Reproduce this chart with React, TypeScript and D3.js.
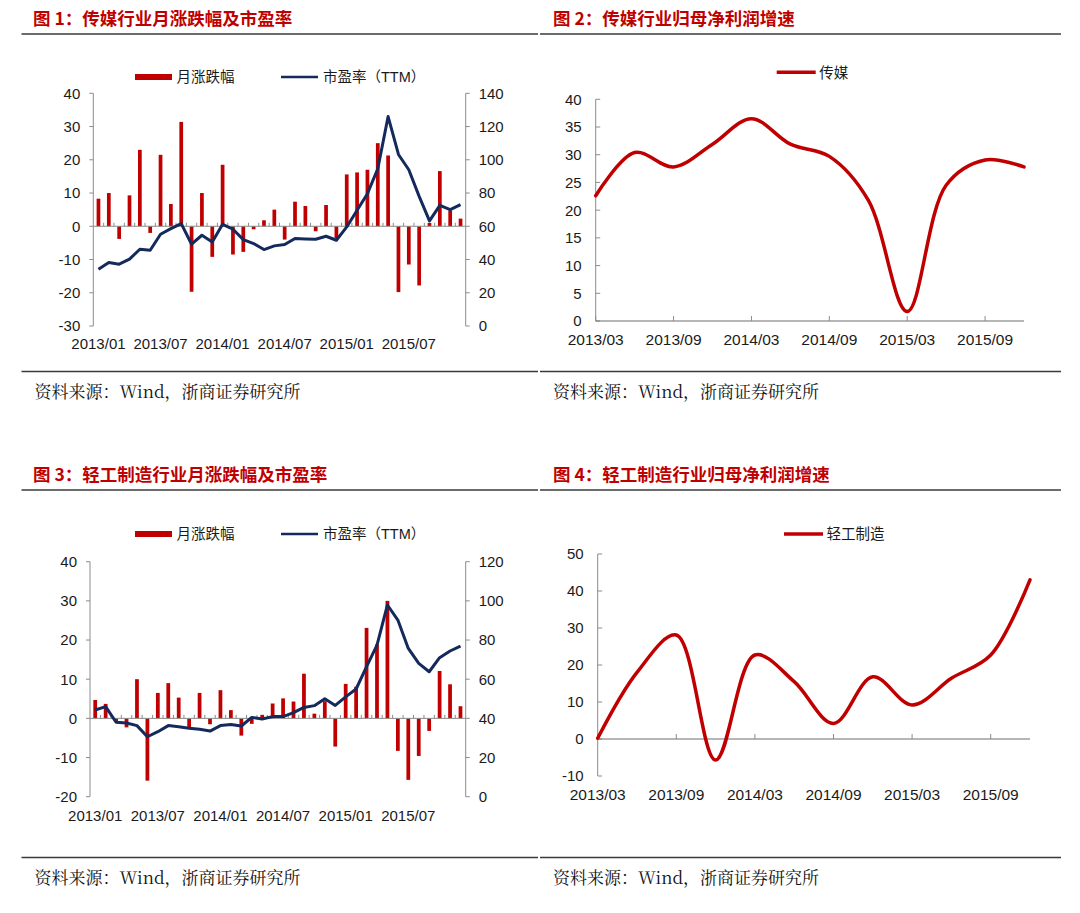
import React from 'react';
import * as d3 from 'd3';

// ---------- DATA ----------
const months = [
  '2013/01','2013/02','2013/03','2013/04','2013/05','2013/06','2013/07','2013/08','2013/09','2013/10','2013/11','2013/12',
  '2014/01','2014/02','2014/03','2014/04','2014/05','2014/06','2014/07','2014/08','2014/09','2014/10','2014/11','2014/12',
  '2015/01','2015/02','2015/03','2015/04','2015/05','2015/06','2015/07','2015/08','2015/09','2015/10','2015/11','2015/12',
];
const monthTickLabels = ['2013/01', '2013/07', '2014/01', '2014/07', '2015/01', '2015/07'];

const mediaMonthlyChange = [
  8.3, 10, -3.8, 9.3, 23, -2, 21.5, 6.7, 31.4, -19.7, 10, -9.2,
  18.5, -8.5, -7.7, -0.9, 1.8, 5, -4, 7.4, 6.1, -1.5, 6.4, -3.6,
  15.6, 16.2, 17, 25, 21.3, -19.8, -11.5, -17.8, 1, 16.6, 4.8, 2.3,
];
const mediaPE = [
  34.2, 38.2, 37.2, 40.2, 46.2, 45.6, 55.2, 58.6, 61.6, 49.2, 54.6, 50.6,
  61.2, 58.2, 52, 49.6, 46, 48.2, 49, 52.6, 52.4, 52.2, 54, 51.6,
  59.6, 69.6, 79.6, 94.6, 126, 103.2, 94, 78, 63.2, 72.6, 70, 73,
];
const lightMonthlyChange = [
  4.7, 3.7, -0.8, -2.3, 10, -15.9, 6.5, 9, 5.3, -2.6, 6.5, -1.5,
  7.2, 2.1, -4.4, -1.4, 0.9, 3.8, 5.1, 4.3, 11.4, 1.2, 4.4, -7.2,
  8.8, 8.1, 23.1, 18.9, 30, -8.3, -15.7, -9.6, -3.2, 12.1, 8.7, 3.1,
];
const lightPE = [
  44.3, 46, 38, 37.6, 36.3, 30.6, 33.2, 36.3, 35.7, 34.9, 34.4, 33.5,
  36.3, 36.9, 36.1, 40.5, 39.7, 40.9, 40.9, 42.9, 45.6, 46.5, 50, 46.6,
  51, 55, 66.4, 77.4, 97.9, 90.2, 75.7, 68.1, 63.8, 71, 74.4, 76.9,
];

const quarters = [
  '2013/03','2013/06','2013/09','2013/12','2014/03','2014/06',
  '2014/09','2014/12','2015/03','2015/06','2015/09','2015/12',
];
const quarterTickLabels = ['2013/03', '2013/09', '2014/03', '2014/09', '2015/03', '2015/09'];
const mediaProfitGrowth = [22.6, 30.4, 27.8, 31.9, 36.5, 31.9, 29.7, 21.8, 1.7, 24.5, 29.05, 27.8];
const lightProfitGrowth = [0.2, 18, 28.1, -5.7, 22.7, 15.5, 4.2, 16.8, 9.2, 16.4, 22.7, 43];

const titles = [
  '图 1：传媒行业月涨跌幅及市盈率',
  '图 2：传媒行业归母净利润增速',
  '图 3：轻工制造行业月涨跌幅及市盈率',
  '图 4：轻工制造行业归母净利润增速',
];
const sourceText = '资料来源：Wind，浙商证券研究所';
const legendBar = '月涨跌幅';
const legendPE = '市盈率（TTM）';

// ---------- STYLE ----------
const RED = '#C00000';
const NAVY = '#14295C';
const AXIS = '#8C8C8C';
const TXT = '#1a1a1a';
const SANS = '"Liberation Sans", Arial, "Noto Sans CJK SC", sans-serif';
const CJK = '"Noto Sans CJK SC", "Liberation Sans", sans-serif';
const SERIF = '"Noto Serif CJK SC", "Liberation Serif", "Noto Sans CJK SC", serif';

type ComboProps = {
  x0: number; x1: number; yTop: number; yBottom: number;
  leftDomain: [number, number]; leftStep: number;
  rightDomain: [number, number]; rightStep: number;
  change: number[]; pe: number[];
  legendY: number; labelY: number;
};

function ComboChart(p: ComboProps) {
  const band = d3.scaleBand<string>().domain(months).range([p.x0, p.x1]).paddingInner(0).paddingOuter(0);
  const bw = band.bandwidth();
  const barW = bw * 0.36;
  const yL = d3.scaleLinear().domain(p.leftDomain).range([p.yBottom, p.yTop]);
  const yR = d3.scaleLinear().domain(p.rightDomain).range([p.yBottom, p.yTop]);
  const leftTicks = d3.range(p.leftDomain[0], p.leftDomain[1] + 0.001, p.leftStep);
  const rightTicks = d3.range(p.rightDomain[0], p.rightDomain[1] + 0.001, p.rightStep);
  const cx = (m: string) => (band(m) as number) + bw / 2;
  const line = d3.line<number>().x((_, i) => cx(months[i])).y(v => yR(v)).curve(d3.curveLinear);
  const y0 = yL(0);
  return (
    <g>
      {/* legend */}
      <rect x={135} y={p.legendY - 3} width={37} height={6} fill={RED} />
      <text x={176.5} y={p.legendY} dy="0.36em" fontFamily={CJK} fontSize={14.5} fill={TXT}>{legendBar}</text>
      <line x1={281} x2={318} y1={p.legendY} y2={p.legendY} stroke={NAVY} strokeWidth={2.6} />
      <text x={323} y={p.legendY} dy="0.36em" fontFamily={SANS} fontSize={14.5} fill={TXT}>{legendPE}</text>

      {/* bars */}
      {p.change.map((v, i) => (
        <rect key={i} x={cx(months[i]) - barW / 2} y={Math.min(yL(v), y0)} width={barW}
          height={Math.abs(yL(v) - y0)} fill={RED} />
      ))}

      {/* zero axis with month ticks */}
      <line x1={p.x0} x2={p.x1} y1={y0} y2={y0} stroke={AXIS} strokeWidth={1} />
      {months.map((m, i) => i > 0 ? (
        <line key={m} x1={band(m) as number} x2={band(m) as number} y1={y0 - 3.5} y2={y0} stroke={AXIS} strokeWidth={1} />
      ) : null)}

      {/* left axis */}
      <line x1={p.x0} x2={p.x0} y1={p.yTop} y2={p.yBottom} stroke={AXIS} strokeWidth={1} />
      {leftTicks.map(t => (
        <g key={'l' + t}>
          <line x1={p.x0 - 4} x2={p.x0} y1={yL(t)} y2={yL(t)} stroke={AXIS} strokeWidth={1} />
          <text x={p.x0 - 13} y={yL(t)} dy="0.36em" textAnchor="end" fontFamily={SANS} fontSize={15} fill={TXT}>{t}</text>
        </g>
      ))}
      {/* right axis */}
      <line x1={p.x1} x2={p.x1} y1={p.yTop} y2={p.yBottom} stroke={AXIS} strokeWidth={1} />
      {rightTicks.map(t => (
        <g key={'r' + t}>
          <line x1={p.x1} x2={p.x1 + 4} y1={yR(t)} y2={yR(t)} stroke={AXIS} strokeWidth={1} />
          <text x={p.x1 + 13} y={yR(t)} dy="0.36em" textAnchor="start" fontFamily={SANS} fontSize={15} fill={TXT}>{t}</text>
        </g>
      ))}

      {/* PE line */}
      <path d={line(p.pe) as string} fill="none" stroke={NAVY} strokeWidth={3} strokeLinejoin="round" />

      {/* x labels */}
      {monthTickLabels.map(m => (
        <text key={m} x={cx(m)} y={p.labelY} dy="0.36em" textAnchor="middle" fontFamily={SANS} fontSize={15} fill={TXT}>{m}</text>
      ))}
    </g>
  );
}

type LineProps = {
  x0: number; x1: number; yTop: number; yBottom: number;
  domain: [number, number]; step: number;
  values: number[]; name: string;
  legendX: number; legendY: number; labelY: number;
};

function GrowthChart(p: LineProps) {
  const x = d3.scalePoint<string>().domain(quarters).range([p.x0, p.x1]).padding(0);
  const y = d3.scaleLinear().domain(p.domain).range([p.yBottom, p.yTop]);
  const ticks = d3.range(p.domain[0], p.domain[1] + 0.001, p.step);
  const line = d3.line<number>().x((_, i) => x(quarters[i]) as number).y(v => y(v)).curve(d3.curveCatmullRom.alpha(0.5));
  const y0 = y(0);
  return (
    <g>
      <line x1={p.legendX} x2={p.legendX + 39} y1={p.legendY} y2={p.legendY} stroke={RED} strokeWidth={3.5} />
      <text x={p.legendX + 42.5} y={p.legendY} dy="0.36em" fontFamily={CJK} fontSize={14.5} fill={TXT}>{p.name}</text>

      {/* left axis */}
      <line x1={p.x0} x2={p.x0} y1={p.yTop} y2={p.yBottom} stroke={AXIS} strokeWidth={1} />
      {ticks.map(t => (
        <g key={t}>
          <line x1={p.x0} x2={p.x0 + 4.5} y1={y(t)} y2={y(t)} stroke={AXIS} strokeWidth={1} />
          <text x={p.x0 - 14} y={y(t)} dy="0.36em" textAnchor="end" fontFamily={SANS} fontSize={15} fill={TXT}>{t}</text>
        </g>
      ))}
      {/* zero axis */}
      <line x1={p.x0} x2={p.x1} y1={y0} y2={y0} stroke="#6E6E6E" strokeWidth={1.2} />
      {quarterTickLabels.map(q => (
        <line key={'t' + q} x1={x(q) as number} x2={x(q) as number} y1={y0 - 5} y2={y0} stroke={AXIS} strokeWidth={1} />
      ))}
      <path d={line(p.values) as string} fill="none" stroke={RED} strokeWidth={3.5} strokeLinejoin="round" strokeLinecap="round" />
      {quarterTickLabels.map(q => (
        <text key={q} x={x(q) as number} y={p.labelY} dy="0.36em" textAnchor="middle" fontFamily={SANS} fontSize={15.5} fill={TXT}>{q}</text>
      ))}
    </g>
  );
}

function Frame() {
  const rules = [34, 371.5, 490, 857.5];
  return (
    <g>
      {rules.map(r => (
        <g key={r}>
          <line x1={21.5} x2={538} y1={r} y2={r} stroke="#3a3a3a" strokeWidth={1.5} />
          <line x1={540} x2={1061} y1={r} y2={r} stroke="#3a3a3a" strokeWidth={1.5} />
        </g>
      ))}
      <text x={33} y={19} dy="0.36em" fontFamily={CJK} fontWeight={700} fontSize={17.5} fill={RED}>{titles[0]}</text>
      <text x={553} y={19} dy="0.36em" fontFamily={CJK} fontWeight={700} fontSize={17.5} fill={RED}>{titles[1]}</text>
      <text x={33} y={475} dy="0.36em" fontFamily={CJK} fontWeight={700} fontSize={17.5} fill={RED}>{titles[2]}</text>
      <text x={553} y={475} dy="0.36em" fontFamily={CJK} fontWeight={700} fontSize={17.5} fill={RED}>{titles[3]}</text>
      <text x={34.5} y={391.5} dy="0.36em" fontFamily={SERIF} fontSize={17} fill="#111">{sourceText}</text>
      <text x={553} y={391.5} dy="0.36em" fontFamily={SERIF} fontSize={17} fill="#111">{sourceText}</text>
      <text x={34.5} y={878} dy="0.36em" fontFamily={SERIF} fontSize={17} fill="#111">{sourceText}</text>
      <text x={553} y={878} dy="0.36em" fontFamily={SERIF} fontSize={17} fill="#111">{sourceText}</text>
    </g>
  );
}

export default function App() {
  return (
    <svg width={1080} height={913} viewBox="0 0 1080 913"
      style={{ position: 'absolute', left: 0, top: 0, background: '#fff' }}>
      <rect x={0} y={0} width={1080} height={913} fill="#fff" />
      <Frame />
      <ComboChart x0={93.3} x1={465.7} yTop={93.3} yBottom={326}
        leftDomain={[-30, 40]} leftStep={10} rightDomain={[0, 140]} rightStep={20}
        change={mediaMonthlyChange} pe={mediaPE} legendY={77} labelY={344} />
      <ComboChart x0={90} x1={465.7} yTop={561.7} yBottom={796.7}
        leftDomain={[-20, 40]} leftStep={10} rightDomain={[0, 120]} rightStep={20}
        change={lightMonthlyChange} pe={lightPE} legendY={534} labelY={815.5} />
      <GrowthChart x0={595.7} x1={1024} yTop={99.3} yBottom={321}
        domain={[0, 40]} step={5} values={mediaProfitGrowth} name="传媒"
        legendX={776.7} legendY={72.3} labelY={339} />
      <GrowthChart x0={597.7} x1={1030} yTop={554} yBottom={776}
        domain={[-10, 50]} step={10} values={lightProfitGrowth} name="轻工制造"
        legendX={784} legendY={534} labelY={794} />
    </svg>
  );
}
